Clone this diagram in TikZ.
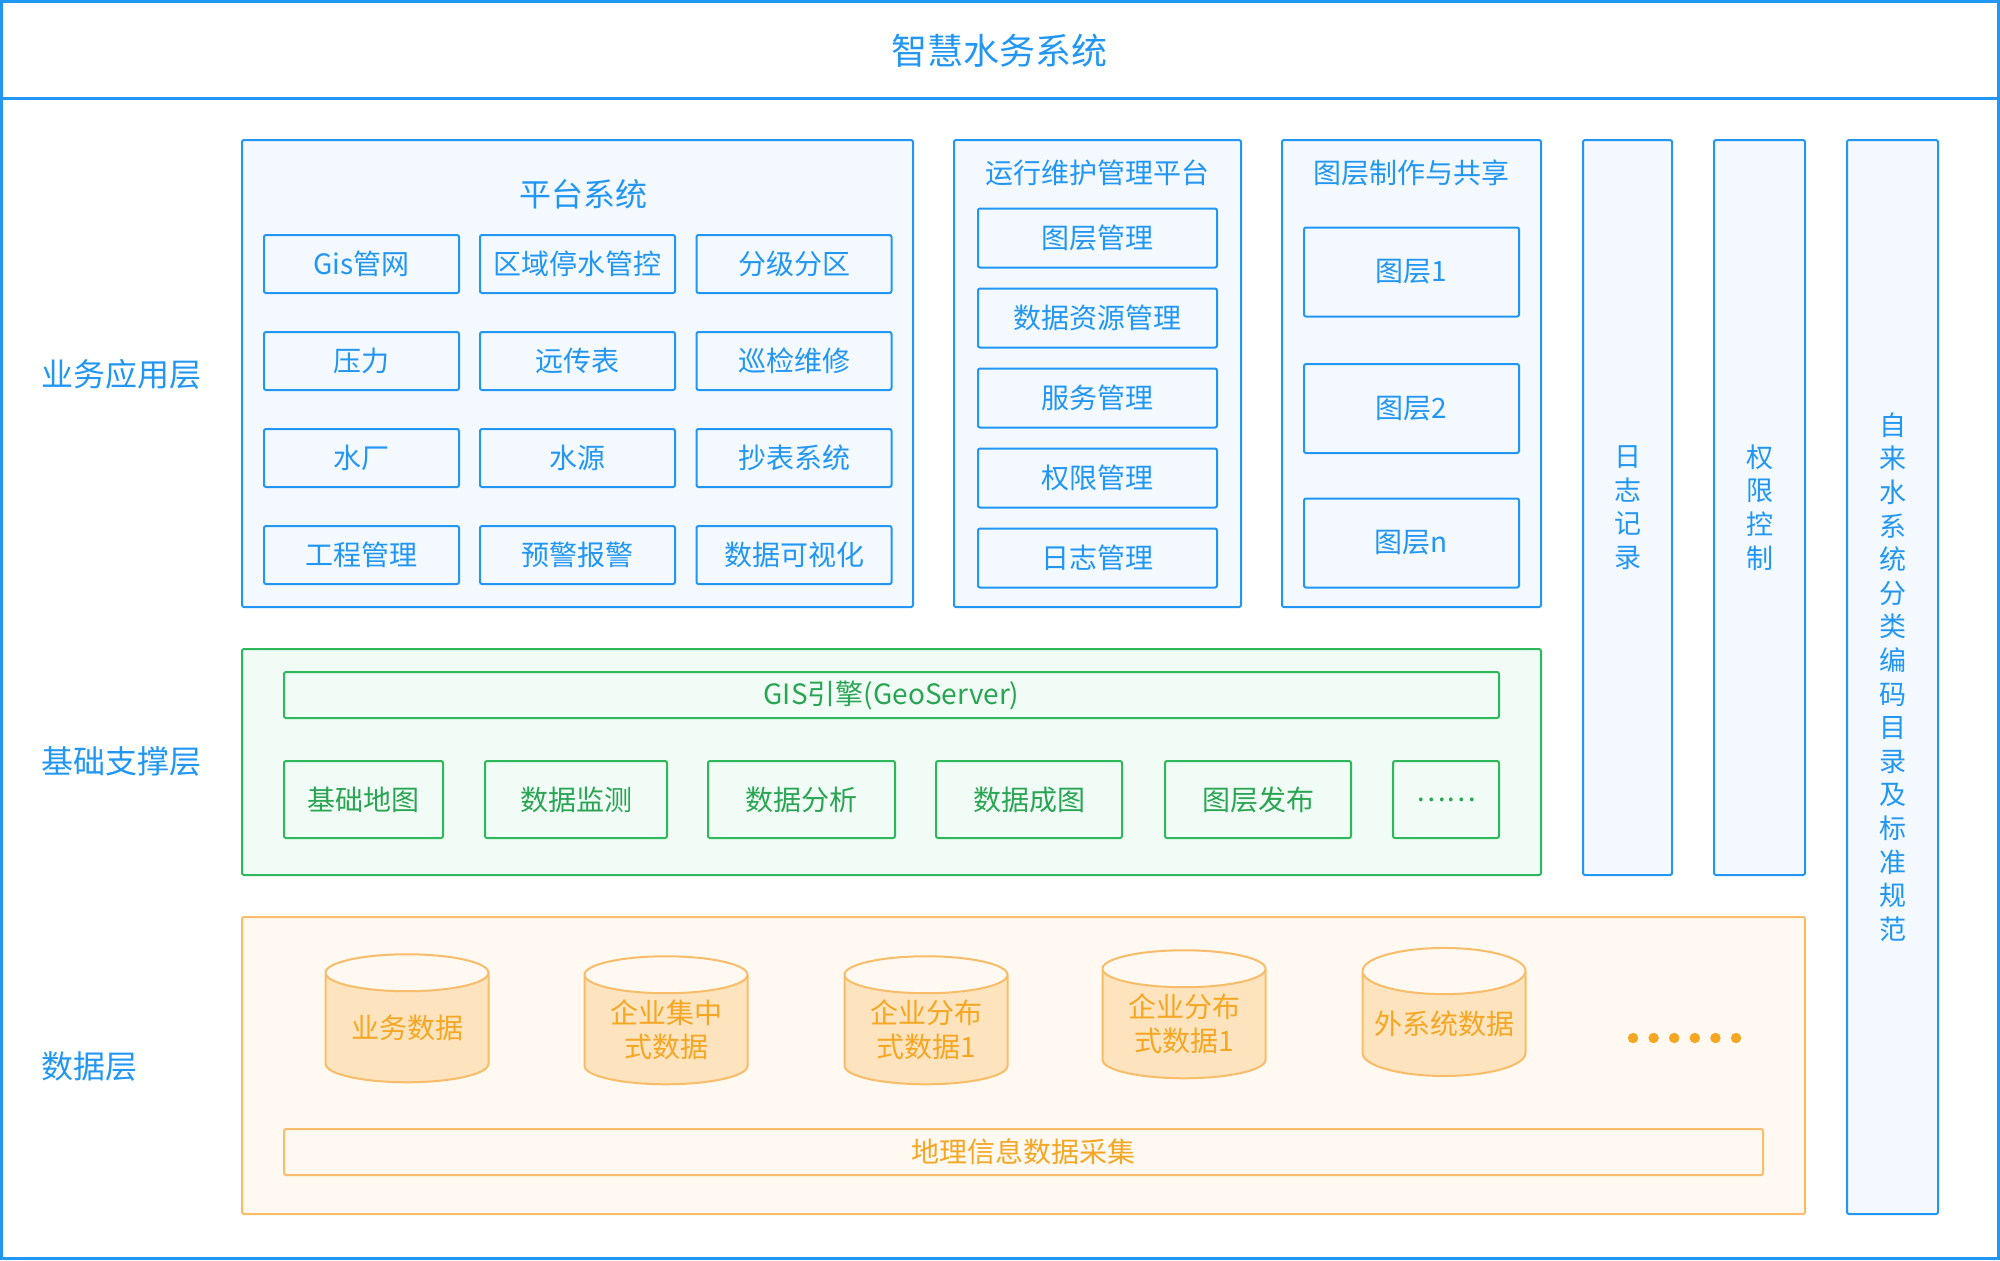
\documentclass[tikz,border=0pt]{standalone}
\usepackage{fontspec}
\setmainfont{Noto Sans CJK SC}
\usetikzlibrary{shapes.geometric}
\definecolor{waterblue}{RGB}{33,150,243}
\definecolor{waterfill}{RGB}{243,249,254}
\definecolor{basegreen}{RGB}{46,184,92}
\definecolor{basefill}{RGB}{242,252,246}
\definecolor{dataorange}{RGB}{249,188,104}
\definecolor{datatext}{RGB}{245,166,35}
\definecolor{datafill}{RGB}{255,249,242}
\definecolor{cylfill}{RGB}{253,228,190}

\tikzset{
  frame/.style={draw=waterblue, line width=1pt, fill=waterfill, rounded corners=1pt, inner sep=0pt},
  appbox/.style={draw=waterblue, line width=1pt, fill=waterfill, rounded corners=1pt, text=waterblue, font=\fontsize{14}{16}\selectfont, inner sep=0pt},
  vbox/.style={frame, text=waterblue, align=center, font=\fontsize{13.5}{16.8}\selectfont},
  basebox/.style={draw=basegreen, line width=1pt, fill=basefill, rounded corners=1pt, text=basegreen!90!black, font=\fontsize{14}{16}\selectfont, inner sep=0pt},
  databox/.style={draw=dataorange, line width=1pt, fill=datafill, rounded corners=1pt, text=datatext, font=\fontsize{14}{16}\selectfont, inner sep=0pt},
  dbcyl/.style={cylinder, shape border rotate=90, aspect=0.33, draw=dataorange, line width=1pt,
    cylinder uses custom fill, cylinder body fill=cylfill, cylinder end fill=datafill,
    minimum width=81.5pt, minimum height=64pt, inner sep=0pt, align=center, text=datatext,
    font=\fontsize{14}{17}\selectfont},
  layerlabel/.style={anchor=west, text=waterblue, font=\fontsize{16}{18}\selectfont},
  boxtitle/.style={text=waterblue, font=\fontsize{14}{16}\selectfont}
}

\begin{document}
\begin{tikzpicture}[x=0.5pt, y=-0.5pt]
\useasboundingbox (0,0) rectangle (2000,1260);
% outer frame and title
\draw[waterblue, line width=1.5pt] (1.5,1.5) rectangle (1998.5,1258.5);
\draw[waterblue, line width=1.5pt] (0,98) -- (2000,98);
\node[text=waterblue, font=\fontsize{18}{20}\selectfont] (title) at (999,51) {智慧水务系统};

% layer labels
\node[layerlabel] (lapp) at (34,374) {业务应用层};
\node[layerlabel] (lbase) at (34,761) {基础支撑层};
\node[layerlabel] (ldata) at (34,1066) {数据层};

% platform system
\node[frame, minimum width=335.5pt, minimum height=233.5pt] (platform) at (577.5,373.5) {};
\node[boxtitle, font=\fontsize{16}{18}\selectfont] (platformtitle) at (583,194) {平台系统};
\tikzset{cell/.style={appbox, minimum width=97.5pt, minimum height=29pt}}
\node[cell] (gis) at (361.5,264) {Gis管网};
\node[cell] (stop) at (577.5,264) {区域停水管控};
\node[cell] (zone) at (794,264) {分级分区};
\node[cell] (press) at (361.5,361) {压力};
\node[cell] (remote) at (577.5,361) {远传表};
\node[cell] (patrol) at (794,361) {巡检维修};
\node[cell] (plant) at (361.5,458) {水厂};
\node[cell] (source) at (577.5,458) {水源};
\node[cell] (meter) at (794,458) {抄表系统};
\node[cell] (project) at (361.5,555) {工程管理};
\node[cell] (alarm) at (577.5,555) {预警报警};
\node[cell] (visual) at (794,555) {数据可视化};

% operation and maintenance
\node[frame, minimum width=143.5pt, minimum height=233.5pt] (ops) at (1097.5,373.5) {};
\node[boxtitle] (opstitle) at (1097.5,173) {运行维护管理平台};
\tikzset{opcell/.style={appbox, minimum width=119.5pt, minimum height=29.5pt}}
\node[opcell] (layermgr) at (1097.5,238) {图层管理};
\node[opcell] (resmgr) at (1097.5,318) {数据资源管理};
\node[opcell] (svcmgr) at (1097.5,398) {服务管理};
\node[opcell] (authmgr) at (1097.5,478) {权限管理};
\node[opcell] (logmgr) at (1097.5,558) {日志管理};

% layer making and sharing
\node[frame, minimum width=129.5pt, minimum height=233.5pt] (share) at (1411.5,373.5) {};
\node[boxtitle] (sharetitle) at (1411.5,173) {图层制作与共享};
\tikzset{lycell/.style={appbox, minimum width=107.5pt, minimum height=44.5pt}}
\node[lycell] (layer1) at (1411.5,272) {图层1};
\node[lycell] (layer2) at (1411.5,408.5) {图层2};
\node[lycell] (layern) at (1411.5,543) {图层n};

% vertical columns
\node[vbox, minimum width=44.5pt, minimum height=367.5pt] (log) at (1627.5,507.5) {日\\志\\记\\录};
\node[vbox, minimum width=45.5pt, minimum height=367.5pt] (auth) at (1759.5,507.5) {权\\限\\控\\制};
\node[vbox, minimum width=45.5pt, minimum height=537pt] (std) at (1892.5,677)
  {自\\来\\水\\系\\统\\分\\类\\编\\码\\目\\录\\及\\标\\准\\规\\范};

% support layer
\node[basebox, minimum width=649.5pt, minimum height=113pt] (support) at (891.5,762) {};
\node[basebox, minimum width=607.5pt, minimum height=23pt] (engine) at (891.5,695) {GIS引擎(GeoServer)};
\node[basebox, minimum width=79.5pt, minimum height=38.5pt] (basemap) at (363.5,799.5) {基础地图};
\node[basebox, minimum width=91pt, minimum height=38.5pt] (monitor) at (576,799.5) {数据监测};
\node[basebox, minimum width=93.5pt, minimum height=38.5pt] (analysis) at (801.5,799.5) {数据分析};
\node[basebox, minimum width=93pt, minimum height=38.5pt] (mapping) at (1029,799.5) {数据成图};
\node[basebox, minimum width=93pt, minimum height=38.5pt] (publish) at (1258,799.5) {图层发布};
\node[basebox, minimum width=53pt, minimum height=38.5pt] (more) at (1446,799.5) {……};

% data layer
\node[databox, minimum width=781.5pt, minimum height=148.5pt] (data) at (1023.5,1065.5) {};
\node[dbcyl] (bizdb) at (407,1028) {业务数据};
\node[dbcyl] (centraldb) at (666,1030) {企业集中\\式数据};
\node[dbcyl] (distdb) at (926,1030) {企业分布\\式数据1};
\node[dbcyl] (distdbb) at (1184,1024) {企业分布\\式数据1};
\node[dbcyl] (extdb) at (1444,1024) {外系统数据};
\foreach \i in {0,...,5}
  \fill[datatext] (1633+20.6*\i,1038) circle (2.6pt);
\node[databox, minimum width=739.5pt, minimum height=23pt] (collect) at (1023.5,1152) {地理信息数据采集};
\end{tikzpicture}
\end{document}
